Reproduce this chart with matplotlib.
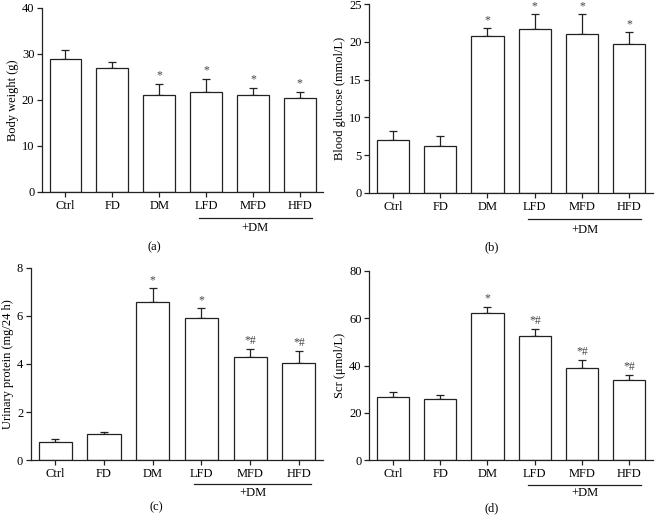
import matplotlib.pyplot as plt
import matplotlib.transforms as mtransforms

plt.rcParams['font.family'] = ['Liberation Serif', 'DejaVu Serif']
plt.rcParams['font.size'] = 9

groups = ['Ctrl', 'FD', 'DM', 'LFD', 'MFD', 'HFD']

# (a) body weight
bw_mean = [28.9, 26.9, 21.0, 21.8, 21.0, 20.4]
bw_err = [1.9, 1.3, 2.5, 2.8, 1.6, 1.4]
bw_mark = ['', '', '*', '*', '*', '*']

# (b) blood glucose
bg_mean = [6.95, 6.25, 20.8, 21.7, 21.1, 19.7]
bg_err = [1.25, 1.35, 1.05, 2.0, 2.6, 1.6]
bg_mark = ['', '', '*', '*', '*', '*']

# (c) urinary protein
up_mean = [0.77, 1.08, 6.57, 5.9, 4.28, 4.03]
up_err = [0.13, 0.11, 0.58, 0.43, 0.36, 0.51]
up_mark = ['', '', '*', '*', '*#', '*#']

# (d) Scr
scr_mean = [26.6, 25.9, 62.2, 52.7, 39.0, 33.7]
scr_err = [2.1, 1.7, 2.7, 2.7, 3.3, 2.1]
scr_mark = ['', '', '*', '*#', '*#', '*#']

panels = [
    # rect, mean, err, marks, ylim, yticks, ylabel, tag, tag_x, tag_y, dm_line_y, dm_text_y
    ([0.064, 0.631, 0.428, 0.354], bw_mean, bw_err, bw_mark, 40, [0, 10, 20, 30, 40],
     'Body weight (g)', '(a)', 0.40, -0.30, -0.14, -0.195),
    ([0.562, 0.629, 0.432, 0.363], bg_mean, bg_err, bg_mark, 25, [0, 5, 10, 15, 20, 25],
     'Blood glucose (mmol/L)', '(b)', 0.43, -0.29, -0.14, -0.195),
    ([0.047, 0.115, 0.445, 0.370], up_mean, up_err, up_mark, 8, [0, 2, 4, 6, 8],
     'Urinary protein (mg/24 h)', '(c)', 0.43, -0.245, -0.125, -0.17),
    ([0.562, 0.115, 0.432, 0.364], scr_mean, scr_err, scr_mark, 80, [0, 20, 40, 60, 80],
     'Scr (μmol/L)', '(d)', 0.43, -0.255, -0.13, -0.175),
]

fig = plt.figure(figsize=(6.57, 5.2), dpi=100)

for rect, mean, err, marks, ymax, yticks, ylabel, tag, tag_x, tag_y, line_y, dm_y in panels:
    ax = fig.add_axes(rect)
    x = range(len(groups))
    ax.bar(x, mean, width=0.68, color='white', edgecolor='#222222', linewidth=0.9, zorder=2)
    ax.errorbar(x, mean, yerr=[[0] * len(err), err], fmt='none', ecolor='#222222',
                elinewidth=0.9, capsize=2.6, capthick=0.9, zorder=1)
    for xi, m, e, s in zip(x, mean, err, marks):
        if s:
            ax.annotate(s, (xi, m + e), xytext=(0, 1.5),
                        textcoords='offset points', ha='center', va='bottom',
                        fontsize=8.5, color='#444444')
    ax.set_xlim(-0.5, 5.5)
    ax.set_ylim(0, ymax)
    ax.set_yticks(yticks)
    ax.set_xticks(list(x))
    ax.set_xticklabels(groups)
    ax.set_ylabel(ylabel, labelpad=2)
    for side in ['top', 'right']:
        ax.spines[side].set_visible(False)
    for side in ['left', 'bottom']:
        ax.spines[side].set_linewidth(0.9)
        ax.spines[side].set_color('#222222')
    ax.tick_params(direction='out', length=3.5, width=0.9, color='#222222', pad=2)

    trans = mtransforms.blended_transform_factory(ax.transData, ax.transAxes)
    ax.plot([2.85, 5.25], [line_y, line_y], color='#222222', lw=0.9,
            transform=trans, clip_on=False)
    ax.text(4.05, dm_y, '+DM', transform=trans, ha='center', va='center')
    ax.text(tag_x, tag_y, tag, transform=ax.transAxes, ha='center', va='center')

fig.savefig('out.png', dpi=100)
